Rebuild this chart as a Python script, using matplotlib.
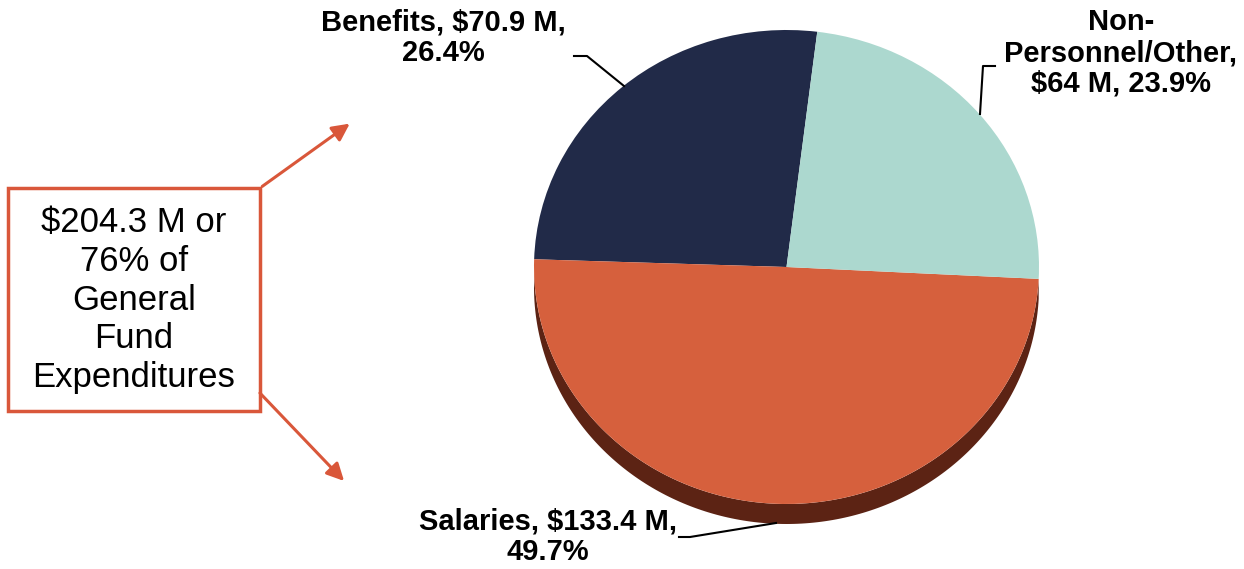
import matplotlib.pyplot as plt
import numpy as np
from matplotlib.patches import Polygon, FancyArrowPatch, Rectangle

plt.rcParams['font.family'] = ['Liberation Sans', 'DejaVu Sans']

# general fund expenditures ($M)
categories = ['Benefits', 'Salaries', 'Non-Personnel/Other']
values = [70.9, 133.4, 64.0]
percents = [26.4, 49.7, 23.9]
labels = ['Benefits, $70.9 M,\n26.4%',
          'Salaries, $133.4 M,\n49.7%',
          'Non-\nPersonnel/Other,\n$64 M, 23.9%']
colors = ['#212a48', '#d6603d', '#acd8cf']
side_color = '#5c2314'
box_text = '$204.3 M or\n76% of\nGeneral\nFund\nExpenditures'
accent = '#d9573a'

W, H = 1244, 569
fig = plt.figure(figsize=(W / 100, H / 100), dpi=100)

# pie axes (stretched a bit flat so the disc looks tilted)
ax = fig.add_axes([534 / W, 1 - 504 / H, 505 / W, 474 / H])
wedges, _ = ax.pie(values, colors=colors, startangle=83, counterclock=True,
                   wedgeprops=dict(linewidth=0), radius=1)
ax.set_aspect('auto')
ax.set_xlim(-1, 1)
ax.set_ylim(-1, 1)
ax.axis('off')

# visible side of the disc under the front slice
depth = 20 / 237
front = wedges[1]
t = np.radians(np.linspace(max(front.theta1, 180), min(front.theta2, 360), 200))
top = np.column_stack([np.cos(t), np.sin(t)])
bot = top[::-1] - [0, depth]
side = Polygon(np.vstack([top, bot]), closed=True, facecolor=side_color,
               edgecolor='none', zorder=0, clip_on=False)
ax.add_patch(side)
for w in wedges:
    w.set_zorder(1)

# overlay in pixel coordinates for labels, leaders and the call-out box
ov = fig.add_axes([0, 0, 1, 1])
ov.set_xlim(0, W)
ov.set_ylim(H, 0)
ov.axis('off')
ov.patch.set_alpha(0)

lbl = dict(fontsize=21, fontweight='bold', ha='center', va='center',
           linespacing=1.12, color='black')
ov.text(443, 38, labels[0], **lbl)
ov.text(548, 537, labels[1], **lbl)
ov.text(1121, 53, labels[2], **lbl)

ov.plot([574, 587, 624], [56, 56, 86], color='black', lw=1.5)
ov.plot([679, 690, 776], [537, 537, 523], color='black', lw=1.5)
ov.plot([995, 983, 980], [66, 66, 114], color='black', lw=1.5)

ov.add_patch(Rectangle((8, 188), 252, 223, facecolor='white',
                       edgecolor=accent, lw=2.5))
ov.text(134, 300, box_text, fontsize=25, ha='center', va='center',
        linespacing=1.22, color='black')

for start, end in [((260, 188), (352, 122)), ((258, 391), (346, 483))]:
    ov.add_patch(FancyArrowPatch(start, end, arrowstyle='-|>',
                                 mutation_scale=26, color=accent, lw=2.2))

fig.savefig('out.png', dpi=100)
